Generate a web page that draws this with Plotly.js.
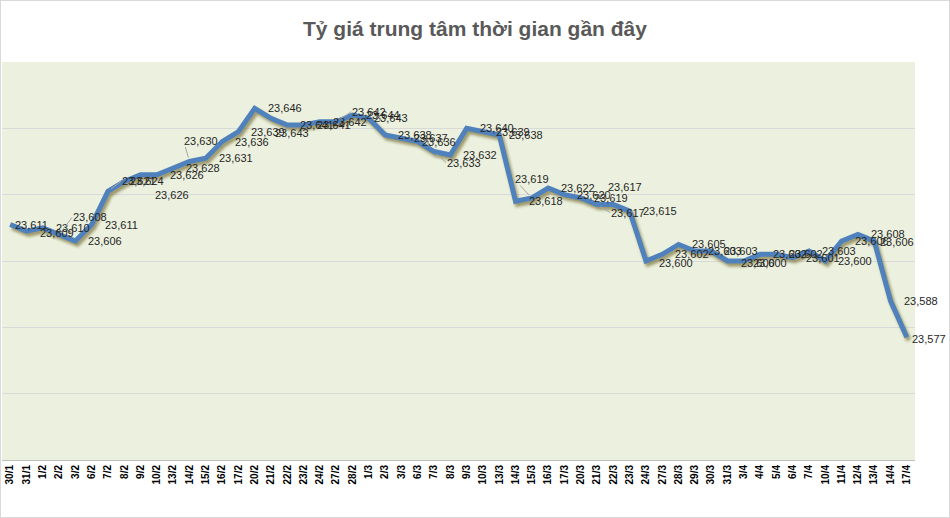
<!DOCTYPE html>
<html><head><meta charset="utf-8">
<script src="https://cdn.plot.ly/plotly-3.0.1.min.js"></script>
<style>
html,body{margin:0;padding:0;background:#fff;}
#chart{width:950px;height:518px;box-sizing:border-box;border:1px solid #d9d9d9;}
.scatterlayer .js-line{filter:drop-shadow(2px 3px 1.5px rgba(110,100,40,0.65));}
</style></head><body><div id="chart"></div>
<script>
const chartTitle = 'Tỷ giá trung tâm thời gian gần đây';
const categories = ['30/1','31/1','1/2','2/2','3/2','6/2','7/2','8/2','9/2','10/2','13/2','14/2','15/2','16/2','17/2','20/2','21/2','22/2','23/2','24/2','27/2','28/2','1/3','2/3','3/3','6/3','7/3','8/3','9/3','10/3','13/3','14/3','15/3','16/3','17/3','20/3','21/3','22/3','23/3','24/3','27/3','28/3','29/3','30/3','31/3','3/4','4/4','5/4','6/4','7/4','10/4','11/4','12/4','13/4','14/4','17/4'];
const rates = [23611,23609,23610,23608,23606,23611,23621,23624,23626,23626,23628,23630,23631,23636,23639,23646,23643,23641,23641,23642,23642,23644,23643,23638,23637,23636,23633,23632,23640,23639,23638,23618,23619,23622,23620,23619,23617,23617,23615,23600,23602,23605,23603,23603,23600,23600,23602,23602,23601,23603,23600,23606,23608,23606,23588,23577];

// label placement tweaks (pixel offsets of label left edge / vertical centre; leader line flag)
const defaultShift = [12, 0, false];
const labelShift = {
  0:[4,0,false], 1:[13,2,false], 3:[13,-17,true], 6:[13,-10,true], 7:[5,0,false], 8:[13,20,true],
  11:[-6,-21,true], 16:[3,15,false], 20:[15,-10,true], 22:[4,0,false], 25:[3,0,false],
  26:[12,11,true], 30:[9,0,false], 32:[-18,-19,true], 36:[13,8,true], 37:[-6,-18,true],
  39:[12,2,false], 44:[12,2,false], 45:[8,2,false], 53:[5,1,false], 55:[4,2,false]
};

const labelFont = {family:'Liberation Sans, Arial, sans-serif', size:11, color:'#262626'};
const annotations = rates.map((v, i) => {
  const s = labelShift[i] || defaultShift;
  const txt = v.toLocaleString('en-US');
  if (s[2]) {
    return {x: categories[i], y: v, xref:'x', yref:'y', text: txt, showarrow: true,
      arrowhead: 0, arrowwidth: 1, arrowcolor: '#a6a6a6', standoff: 4,
      ax: s[0], ay: s[1], xanchor: 'left', yanchor: 'middle', font: labelFont, borderpad: 0};
  }
  return {x: categories[i], y: v, xref:'x', yref:'y', text: txt, showarrow: false,
    xanchor: 'left', yanchor: 'middle', xshift: s[0], yshift: -s[1], font: labelFont, borderpad: 0};
});

const trace = {
  x: categories, y: rates, type: 'scatter', mode: 'lines',
  line: {color: '#4F81BD', width: 5, shape: 'linear'}, hoverinfo: 'skip'
};

const layout = {
  width: 948, height: 516,
  margin: {l: 1, r: 34, t: 61, b: 57},
  paper_bgcolor: '#ffffff', plot_bgcolor: '#EBF1DE',
  showlegend: false,
  title: {text: chartTitle, x: 0.5, xref: 'container', y: 0.947, yref: 'container', yanchor: 'middle',
    font: {family: 'Liberation Sans, Arial, sans-serif', size: 21, color: '#595959', weight: 700}},
  xaxis: {type: 'category', range: [-0.5, categories.length - 0.5], tickangle: -90,
    showgrid: false, showline: true, linecolor: '#bfbfbf', linewidth: 1, ticks: '',
    tickfont: {family: 'Liberation Sans, Arial, sans-serif', size: 10, color: '#000000', weight: 700},
    fixedrange: true},
  yaxis: {range: [23540, 23660], dtick: 20, tick0: 23540, showticklabels: false, ticks: '',
    showgrid: true, gridcolor: '#d9d9d9', gridwidth: 1, zeroline: false, showline: false, fixedrange: true},
  annotations: annotations
};

Plotly.newPlot('chart', [trace], layout, {staticPlot: true, displayModeBar: false});
</script></body></html>
